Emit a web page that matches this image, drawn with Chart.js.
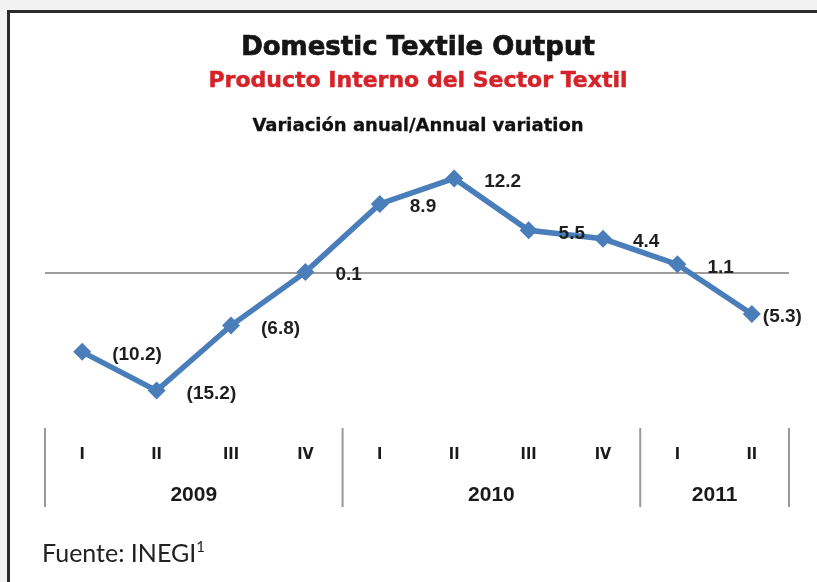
<!DOCTYPE html>
<html>
<head>
<meta charset="utf-8">
<script src="https://cdn.jsdelivr.net/npm/chart.js@4.4.1/dist/chart.umd.min.js"></script>
<style>
  html, body { margin: 0; padding: 0; width: 817px; height: 582px; overflow: hidden; background: #f2f2f2; }
  .frame { position: absolute; left: 7px; top: 10px; width: 840px; height: 620px; box-sizing: border-box;
           border: 3px solid #2b2b2b; background: #fff; }
  #chart { position: absolute; left: 0; top: 0; }
  .head { position: absolute; left: 0; width: 836px; text-align: center; line-height: 1; white-space: nowrap;
          font-family: "DejaVu Sans", sans-serif; font-weight: bold; }
  .t1 { top: 33px; font-size: 26px; color: #151515; -webkit-text-stroke: 0.7px #151515; }
  .t2 { top: 69px; font-size: 22px; color: #d5232a; -webkit-text-stroke: 0.5px #d5232a; }
  .t3 { top: 116px; font-size: 18px; color: #111; -webkit-text-stroke: 0.3px #111; }
  .source { position: absolute; left: 42px; top: 540px; font-family: Lato, "Open Sans", sans-serif;
            font-size: 25px; line-height: 1; color: #222; }
  .source sup { font-size: 15px; vertical-align: 10px; line-height: 0; }
</style>
</head>
<body>
<div class="frame"></div>
<canvas id="chart" width="817" height="582"></canvas>
<div class="head t1">Domestic Textile Output</div>
<div class="head t2">Producto Interno del Sector Textil</div>
<div class="head t3">Variación anual/Annual variation</div>
<div class="source">Fuente: INEGI<sup>1</sup></div>

<script>
// quarters, years and annual variation (%)
const quarters = ['I', 'II', 'III', 'IV', 'I', 'II', 'III', 'IV', 'I', 'II'];
const years = ['2009', '2010', '2011'];
const quartersPerYear = [4, 4, 2];
const variation = [-10.2, -15.2, -6.8, 0.1, 8.9, 12.2, 5.5, 4.4, 1.1, -5.3];
const yMin = -19;
const yMax = 16;

const lineBlue = '#4a7ebb';

// negatives are written in brackets, e.g. (10.2)
function fmt(v) {
    return v < 0 ? '(' + Math.abs(v).toFixed(1) + ')' : v.toFixed(1);
}

const quarterAxis = {
    id: 'quarterAxis',
    beforeDatasetsDraw(chart) {
        const { ctx, chartArea, scales: { x, y } } = chart;
        const y0 = y.getPixelForValue(0);
        ctx.save();

        // zero line
        ctx.strokeStyle = '#7d7d7d';
        ctx.lineWidth = 1.5;
        ctx.beginPath();
        ctx.moveTo(chartArea.left, y0);
        ctx.lineTo(chartArea.right, y0);
        ctx.stroke();

        // year separators
        const half = (x.getPixelForValue(1) - x.getPixelForValue(0)) / 2;
        const bounds = [x.getPixelForValue(0) - half];
        let idx = 0;
        quartersPerYear.forEach(n => {
            idx += n;
            bounds.push(x.getPixelForValue(idx - 1) + half);
        });
        ctx.strokeStyle = '#9a9a9a';
        ctx.lineWidth = 2;
        bounds.forEach(bx => {
            ctx.beginPath();
            ctx.moveTo(bx, 428);
            ctx.lineTo(bx, 507);
            ctx.stroke();
        });

        // quarter labels
        ctx.fillStyle = '#1a1a1a';
        ctx.textAlign = 'center';
        ctx.textBaseline = 'middle';
        ctx.font = 'bold 16px "DejaVu Sans Condensed", "DejaVu Sans", sans-serif';
        quarters.forEach((q, i) => ctx.fillText(q, x.getPixelForValue(i), 455));

        // year labels
        ctx.font = 'bold 21px "Liberation Sans", Arial, sans-serif';
        years.forEach((yr, i) => ctx.fillText(yr, (bounds[i] + bounds[i + 1]) / 2, 495));
        ctx.restore();
    },
    afterDatasetsDraw(chart) {
        const { ctx } = chart;
        const meta = chart.getDatasetMeta(0);
        ctx.save();
        ctx.fillStyle = '#1f1f1f';
        ctx.font = 'bold 19px "Liberation Sans", Arial, sans-serif';
        ctx.textAlign = 'left';
        ctx.textBaseline = 'middle';
        meta.data.forEach((pt, i) => {
            // last point sits at the edge, its label hugs the marker
            const dx = i === variation.length - 1 ? 11 : 30;
            ctx.fillText(fmt(variation[i]), pt.x + dx, pt.y + 3);
        });
        ctx.restore();
    }
};

new Chart(document.getElementById('chart'), {
    type: 'line',
    data: {
        labels: quarters.map((q, i) => q + '-' + i),
        datasets: [{
            data: variation,
            borderColor: lineBlue,
            backgroundColor: lineBlue,
            borderWidth: 5.5,
            tension: 0,
            pointStyle: 'rectRot',
            pointRadius: 9,
            pointBorderWidth: 0,
            pointBackgroundColor: lineBlue,
            clip: false
        }]
    },
    options: {
        responsive: false,
        animation: false,
        layout: { padding: { left: 45, right: 28, top: 149, bottom: 162 } },
        scales: {
            x: { display: false, offset: true },
            y: { display: false, min: yMin, max: yMax }
        },
        plugins: {
            legend: { display: false },
            tooltip: { enabled: false }
        }
    },
    plugins: [quarterAxis]
});
</script>
</body>
</html>
